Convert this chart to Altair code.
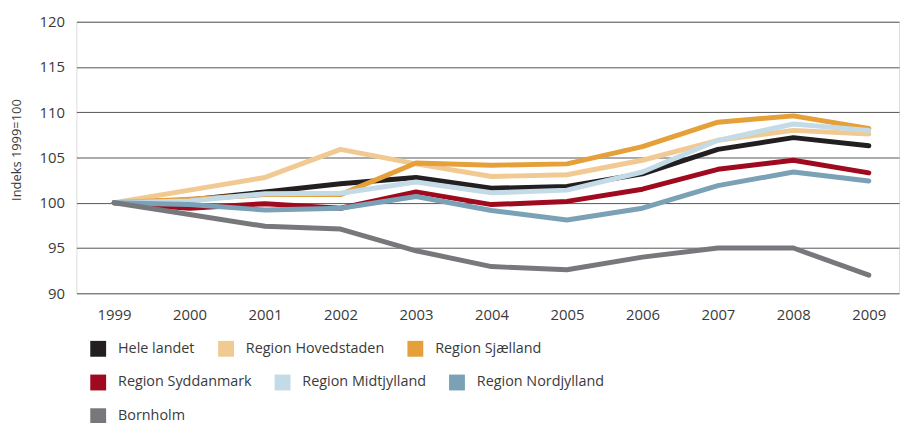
import altair as alt
import pandas as pd

years = [1999, 2000, 2001, 2002, 2003, 2004, 2005, 2006, 2007, 2008, 2009]

series_names = [
    "Hele landet",
    "Region Hovedstaden",
    "Region Sjælland",
    "Region Syddanmark",
    "Region Midtjylland",
    "Region Nordjylland",
    "Bornholm",
]

hele_landet = [100, 100.3, 101.2, 102.1, 102.8, 101.6, 101.8, 103.2, 105.9, 107.2, 106.3]
hovedstaden = [100, 101.4, 102.8, 105.9, 104.3, 102.9, 103.1, 104.7, 106.9, 108.0, 107.6]
sjaelland = [100, 100.4, 100.9, 100.9, 104.4, 104.15, 104.3, 106.2, 108.9, 109.6, 108.2]
syddanmark = [100, 99.4, 99.9, 99.4, 101.2, 99.8, 100.15, 101.5, 103.7, 104.7, 103.3]
midtjylland = [100, 100.2, 101.0, 101.05, 102.3, 101.1, 101.4, 103.4, 106.9, 108.7, 108.0]
nordjylland = [100, 99.8, 99.2, 99.4, 100.7, 99.15, 98.1, 99.4, 101.9, 103.4, 102.4]
bornholm = [100, 98.7, 97.4, 97.1, 94.7, 92.95, 92.6, 94.0, 95.0, 95.0, 92.0]

colors = ["#231f20", "#f1ca93", "#e5a03a", "#a00a1e", "#c3dbe6", "#7aa1b5", "#77787b"]

y_ticks = [90, 95, 100, 105, 110, 115, 120]

# legend rows as in the reference (three rows)
row1 = series_names[0:3]
row2 = series_names[3:6]
row3 = series_names[6:7]

all_values = [hele_landet, hovedstaden, sjaelland, syddanmark, midtjylland, nordjylland, bornholm]
rows = []
for name, vals in zip(series_names, all_values):
    for yr, v in zip(years, vals):
        rows.append({"Region": name, "Year": yr, "Index": v})
df = pd.DataFrame(rows)

FONT = "Open Sans"
TXT = "#3a3a3a"


def legend(y, **extra):
    return alt.Legend(
        title=None,
        orient="none",
        legendX=14,
        legendY=y,
        direction="horizontal",
        columnPadding=11,
        padding=0,
        symbolType="square",
        symbolSize=64,
        symbolStrokeWidth=8,
        symbolOpacity=1,
        labelFont=FONT,
        labelFontSize=14.5,
        labelColor=TXT,
        labelOffset=12,
        labelLimit=300,
        **extra,
    )


base = alt.Chart(df).mark_line(strokeWidth=5, strokeCap="round", strokeJoin="round").encode(
    x=alt.X(
        "Year:Q",
        scale=alt.Scale(domain=[1998.5, 2009.4], nice=False, zero=False),
        axis=alt.Axis(
            values=years,
            format="d",
            title=None,
            grid=False,
            domain=False,
            ticks=False,
            labelFontSize=15,
            labelFont=FONT,
            labelColor=TXT,
            labelPadding=14,
            labelFlush=False,
        ),
    ),
    y=alt.Y(
        "Index:Q",
        scale=alt.Scale(domain=[90, 120], nice=False, zero=False),
        axis=alt.Axis(
            values=y_ticks,
            title="Indeks 1999=100",
            titleFont=FONT,
            titleFontSize=13,
            titleFontWeight="normal",
            titleColor=TXT,
            titleAngle=270,
            titleAlign="center",
            titleBaseline="middle",
            titleX=-60,
            titleY=129,
            grid=True,
            gridColor="#555555",
            gridWidth=1,
            domain=False,
            ticks=False,
            labelFontSize=15,
            labelFont=FONT,
            labelColor=TXT,
            labelPadding=12,
        ),
    ),
    order=alt.Order("Year:Q"),
)

layer1 = base.transform_filter(
    alt.FieldOneOfPredicate(field="Region", oneOf=row1)
).encode(
    color=alt.Color(
        "Region:N",
        scale=alt.Scale(domain=row1, range=colors[0:3]),
        sort=row1,
        legend=legend(322),
    )
)

layer2 = base.transform_filter(
    alt.FieldOneOfPredicate(field="Region", oneOf=row2)
).encode(
    stroke=alt.Stroke(
        "Region:N",
        scale=alt.Scale(domain=row2, range=colors[3:6]),
        sort=row2,
        legend=legend(356),
    )
)

layer3 = base.transform_filter(
    alt.FieldOneOfPredicate(field="Region", oneOf=row3)
).encode(
    color=alt.value(colors[6]),
    opacity=alt.Opacity(
        "Region:O",
        scale=alt.Scale(domain=row3, range=[1]),
        legend=legend(390, symbolFillColor=colors[6], symbolStrokeColor=colors[6]),
    ),
)

chart = (
    alt.layer(layer1, layer2, layer3)
    .properties(
        width=830,
        height=274,
        padding={"left": 69, "top": 12, "right": 2, "bottom": 129},
        autosize=alt.AutoSizeParams(type="none"),
    )
    .configure_view(stroke=None)
    .configure(background="white")
)

chart.save("out.html", embed_options={"renderer": "svg", "actions": False})
